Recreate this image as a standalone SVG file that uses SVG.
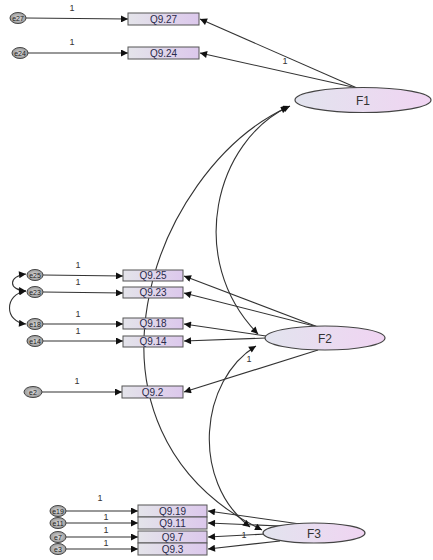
<svg xmlns="http://www.w3.org/2000/svg" width="433" height="560" viewBox="0 0 433 560">
<defs>
<linearGradient id="boxg" x1="0" y1="0" x2="1" y2="0">
<stop offset="0" stop-color="#e4e4ea"/><stop offset="1" stop-color="#dcc8ec"/>
</linearGradient>
<linearGradient id="ellg" x1="0" y1="0" x2="1" y2="0">
<stop offset="0" stop-color="#e2e4ee"/><stop offset="1" stop-color="#f0d4f2"/>
</linearGradient>
<radialGradient id="errg"><stop offset="0" stop-color="#dcdcdc"/><stop offset="1" stop-color="#9a9a9a"/></radialGradient>
<marker id="ah" viewBox="0 0 10 10" refX="10" refY="5" markerWidth="9" markerHeight="7" markerUnits="userSpaceOnUse" orient="auto-start-reverse">
<path d="M0,0 L10,5 L0,10 Z" fill="#111"/>
</marker>
</defs>
<style>
.box{fill:url(#boxg);stroke:#555;stroke-width:1}
.lat{fill:url(#ellg);stroke:#444;stroke-width:1.2}
.err{fill:url(#errg);stroke:#444;stroke-width:1}
.bt{font-family:"Liberation Sans",Arial,sans-serif;font-size:10px;fill:#2a2a4a;text-anchor:middle}
.lt{font-family:"Liberation Sans",Arial,sans-serif;font-size:12px;fill:#333;text-anchor:middle}
.et{font-family:"Liberation Sans",Arial,sans-serif;font-size:7px;fill:#222;text-anchor:middle}
.one{font-family:"Liberation Sans",Arial,sans-serif;font-size:9px;fill:#333;text-anchor:middle}
.c{fill:none;stroke:#333;stroke-width:1.1;marker-end:url(#ah)}
.d{fill:none;stroke:#333;stroke-width:1.1;marker-start:url(#ah);marker-end:url(#ah)}
</style>
<g id="connectors">
<line class="c" x1="26" y1="18" x2="128" y2="19"/>
<line class="c" x1="28" y1="53" x2="128" y2="53"/>
<line class="c" x1="357" y1="88" x2="200" y2="19"/>
<line class="c" x1="357" y1="88" x2="200" y2="53"/>
<line class="c" x1="43" y1="275" x2="123" y2="276"/>
<line class="c" x1="43" y1="292" x2="123" y2="293"/>
<line class="c" x1="43" y1="324" x2="123" y2="324"/>
<line class="c" x1="43" y1="341" x2="123" y2="341"/>
<line class="c" x1="42" y1="392" x2="122" y2="392"/>
<line class="c" x1="318" y1="327" x2="184" y2="276"/>
<line class="c" x1="318" y1="327" x2="184" y2="293"/>
<line class="c" x1="266" y1="336" x2="184" y2="324"/>
<line class="c" x1="266" y1="338" x2="184" y2="341"/>
<line class="c" x1="318" y1="350" x2="184" y2="392"/>
<line class="c" x1="66" y1="511" x2="138" y2="511"/>
<line class="c" x1="66" y1="523" x2="138" y2="523"/>
<line class="c" x1="66" y1="537" x2="138" y2="537"/>
<line class="c" x1="66" y1="549" x2="138" y2="549"/>
<line class="c" x1="300" y1="524" x2="208" y2="511"/>
<line class="c" x1="280" y1="526" x2="208" y2="523"/>
<line class="c" x1="266" y1="534" x2="208" y2="537"/>
<line class="c" x1="280" y1="541" x2="208" y2="549"/>
<path class="d" d="M290,106 C215,140 185,260 258,334"/>
<path class="d" d="M288,107 C150,170 60,430 262,530"/>
<path class="d" d="M256,346 C200,380 190,480 250,527"/>
<path class="d" d="M26,274 C8,276 8,290 26,291"/>
<path class="d" d="M26,291 C4,294 4,322 26,324"/>
<text class="one" x="72" y="11">1</text>
<text class="one" x="72" y="45">1</text>
<text class="one" x="285" y="64">1</text>
<text class="one" x="78" y="268">1</text>
<text class="one" x="78" y="285">1</text>
<text class="one" x="78" y="317">1</text>
<text class="one" x="78" y="334">1</text>
<text class="one" x="77" y="384">1</text>
<text class="one" x="249" y="362">1</text>
<text class="one" x="100" y="501">1</text>
<text class="one" x="106" y="520">1</text>
<text class="one" x="106" y="533">1</text>
<text class="one" x="106" y="546">1</text>
<text class="one" x="244" y="538">1</text>
</g>
<g id="e27"><ellipse class="err" cx="18" cy="18" rx="8" ry="5.5"/><text class="et" x="18" y="20.5">e27</text></g>
<g id="e24"><ellipse class="err" cx="20" cy="53" rx="8" ry="5.5"/><text class="et" x="20" y="55.5">e24</text></g>
<g id="e25"><ellipse class="err" cx="35" cy="275" rx="8" ry="5.5"/><text class="et" x="35" y="277.5">e25</text></g>
<g id="e23"><ellipse class="err" cx="35" cy="292" rx="8" ry="5.5"/><text class="et" x="35" y="294.5">e23</text></g>
<g id="e18"><ellipse class="err" cx="35" cy="324" rx="8" ry="5.5"/><text class="et" x="35" y="326.5">e18</text></g>
<g id="e14"><ellipse class="err" cx="35" cy="341" rx="8" ry="5.5"/><text class="et" x="35" y="343.5">e14</text></g>
<g id="e2"><ellipse class="err" cx="33" cy="392" rx="9" ry="5.5"/><text class="et" x="33" y="394.5">e2</text></g>
<g id="e19"><ellipse class="err" cx="58" cy="511" rx="8" ry="5.5"/><text class="et" x="58" y="513.5">e19</text></g>
<g id="e11"><ellipse class="err" cx="58" cy="523" rx="8" ry="5.5"/><text class="et" x="58" y="525.5">e11</text></g>
<g id="e7"><ellipse class="err" cx="58" cy="537" rx="8" ry="5.5"/><text class="et" x="58" y="539.5">e7</text></g>
<g id="e3"><ellipse class="err" cx="58" cy="549" rx="8" ry="5.5"/><text class="et" x="58" y="551.5">e3</text></g>
<g id="Q9.27"><rect class="box" x="128" y="13" width="71" height="12"/><text class="bt" x="163.5" y="22.5">Q9.27</text></g>
<g id="Q9.24"><rect class="box" x="128" y="47" width="71" height="12"/><text class="bt" x="163.5" y="56.5">Q9.24</text></g>
<g id="Q9.25"><rect class="box" x="123" y="270" width="60" height="11"/><text class="bt" x="153" y="279">Q9.25</text></g>
<g id="Q9.23"><rect class="box" x="123" y="287" width="60" height="11"/><text class="bt" x="153" y="296">Q9.23</text></g>
<g id="Q9.18"><rect class="box" x="123" y="318" width="60" height="11"/><text class="bt" x="153" y="327">Q9.18</text></g>
<g id="Q9.14"><rect class="box" x="123" y="336" width="60" height="11"/><text class="bt" x="153" y="345">Q9.14</text></g>
<g id="Q9.2"><rect class="box" x="122" y="386" width="61" height="12"/><text class="bt" x="152.5" y="395.5">Q9.2</text></g>
<g id="Q9.19"><rect class="box" x="138" y="505" width="69" height="12"/><text class="bt" x="172.5" y="514.5">Q9.19</text></g>
<g id="Q9.11"><rect class="box" x="138" y="517" width="69" height="12"/><text class="bt" x="172.5" y="526.5">Q9.11</text></g>
<g id="Q9.7"><rect class="box" x="138" y="531" width="69" height="12"/><text class="bt" x="172.5" y="540.5">Q9.7</text></g>
<g id="Q9.3"><rect class="box" x="138" y="543" width="69" height="12"/><text class="bt" x="172.5" y="552.5">Q9.3</text></g>
<g id="F1"><ellipse class="lat" cx="363" cy="100" rx="68" ry="12.5"/><text class="lt" x="363" y="104.5">F1</text></g>
<g id="F2"><ellipse class="lat" cx="325" cy="338" rx="60" ry="12"/><text class="lt" x="325" y="342.5">F2</text></g>
<g id="F3"><ellipse class="lat" cx="314" cy="533" rx="51" ry="10"/><text class="lt" x="314" y="537.5">F3</text></g>
</svg>
